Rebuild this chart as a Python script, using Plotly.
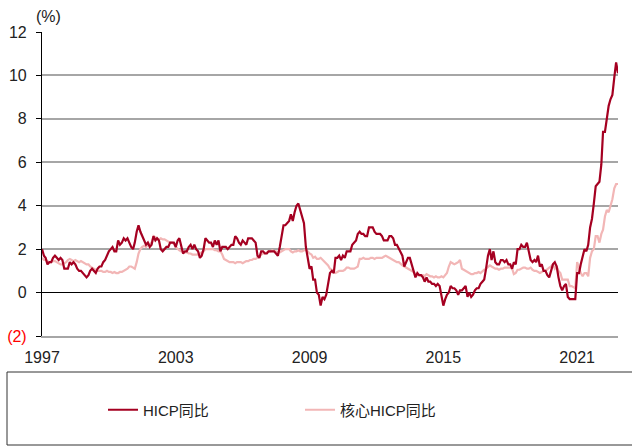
import pandas as pd
import plotly.graph_objects as go

start_month = "1997-01-01"
n_months = 311

hicp_yoy = [
    2.0, 1.7, 1.6, 1.3, 1.4, 1.4, 1.6, 1.7, 1.6, 1.5, 1.6, 1.5,  # 1997
    1.1, 1.1, 1.1, 1.4, 1.3, 1.4, 1.3, 1.1, 1.0, 1.0, 0.9, 0.8,  # 1998
    0.7, 0.8, 1.0, 1.1, 1.0, 0.9, 1.1, 1.2, 1.2, 1.4, 1.5, 1.7,  # 1999
    1.9, 2.0, 2.1, 1.9, 1.9, 2.4, 2.2, 2.3, 2.5, 2.4, 2.5, 2.3,  # 2000
    2.1, 2.0, 2.3, 2.8, 3.1, 2.8, 2.6, 2.4, 2.2, 2.3, 2.1, 2.2,  # 2001
    2.6, 2.4, 2.5, 2.4, 2.0, 1.9, 2.0, 2.1, 2.1, 2.3, 2.3, 2.3,  # 2002
    2.1, 2.4, 2.5, 2.1, 1.8, 1.9, 1.9, 2.1, 2.2, 2.0, 2.2, 2.0,  # 2003
    1.9, 1.6, 1.7, 2.0, 2.5, 2.4, 2.3, 2.3, 2.1, 2.4, 2.2, 2.4,  # 2004
    1.9, 2.1, 2.1, 2.1, 2.0, 2.1, 2.2, 2.2, 2.6, 2.5, 2.3, 2.2,  # 2005
    2.4, 2.3, 2.2, 2.5, 2.5, 2.5, 2.4, 2.3, 1.7, 1.6, 1.9, 1.9,  # 2006
    1.8, 1.8, 1.9, 1.9, 1.9, 1.9, 1.8, 1.7, 2.1, 2.6, 3.1, 3.1,  # 2007
    3.2, 3.3, 3.6, 3.3, 3.7, 4.0, 4.1, 3.8, 3.6, 3.2, 2.1, 1.6,  # 2008
    1.1, 1.2, 0.6, 0.6, 0.0, -0.1, -0.6, -0.2, -0.3, -0.1, 0.5, 0.9,  # 2009
    1.0, 0.9, 1.6, 1.6, 1.7, 1.5, 1.7, 1.6, 1.9, 1.9, 1.9, 2.2,  # 2010
    2.3, 2.4, 2.7, 2.8, 2.7, 2.7, 2.6, 2.6, 3.0, 3.0, 3.0, 2.8,  # 2011
    2.7, 2.7, 2.7, 2.6, 2.4, 2.4, 2.4, 2.6, 2.6, 2.5, 2.2, 2.2,  # 2012
    2.0, 1.8, 1.7, 1.2, 1.4, 1.6, 1.6, 1.3, 1.1, 0.7, 0.9, 0.8,  # 2013
    0.8, 0.7, 0.5, 0.7, 0.5, 0.5, 0.4, 0.4, 0.3, 0.4, 0.3, -0.2,  # 2014
    -0.6, -0.3, -0.1, 0.0, 0.3, 0.2, 0.2, 0.1, -0.1, 0.1, 0.1, 0.2,  # 2015
    0.3, -0.2, 0.0, -0.2, -0.1, 0.1, 0.2, 0.2, 0.4, 0.5, 0.6, 1.1,  # 2016
    1.7, 2.0, 1.5, 1.9, 1.4, 1.3, 1.3, 1.5, 1.5, 1.4, 1.5, 1.3,  # 2017
    1.3, 1.1, 1.4, 1.3, 2.0, 2.0, 2.2, 2.1, 2.1, 2.3, 1.9, 1.5,  # 2018
    1.4, 1.5, 1.4, 1.7, 1.2, 1.3, 1.0, 1.0, 0.8, 0.7, 1.0, 1.3,  # 2019
    1.4, 1.2, 0.7, 0.3, 0.1, 0.3, 0.4, -0.2, -0.3, -0.3, -0.3, -0.3,  # 2020
    0.9, 0.9, 1.3, 1.6, 2.0, 1.9, 2.2, 3.0, 3.4, 4.1, 4.9, 5.0,  # 2021
    5.1, 5.9, 7.4, 7.4, 8.1, 8.6, 8.9, 9.1, 9.9, 10.6, 10.1,  # 2022
]

core_hicp_yoy = [
    1.6, 1.5, 1.5, 1.45, 1.4, 1.4, 1.45, 1.45, 1.4, 1.35, 1.3, 1.3,  # 1997
    1.35, 1.4, 1.5, 1.55, 1.5, 1.45, 1.5, 1.45, 1.4, 1.45, 1.4, 1.35,  # 1998
    1.3, 1.3, 1.2, 1.15, 1.1, 1.05, 1.0, 1.0, 1.0, 0.95, 0.95, 1.0,  # 1999
    0.95, 0.95, 0.9, 0.95, 0.9, 0.9, 0.95, 0.95, 1.0, 1.05, 1.1, 1.2,  # 2000
    1.2, 1.15, 1.1, 1.4, 1.8, 2.0, 2.1, 2.15, 2.1, 2.2, 2.25, 2.3,  # 2001
    2.6, 2.55, 2.5, 2.45, 2.5, 2.45, 2.45, 2.4, 2.35, 2.3, 2.3, 2.25,  # 2002
    2.1, 2.0, 1.95, 1.9, 1.9, 1.85, 1.85, 1.8, 1.8, 1.75, 1.75, 1.75,  # 2003
    1.75, 1.8, 1.85, 1.9, 2.0, 2.0, 2.0, 2.0, 2.0, 1.95, 1.95, 1.9,  # 2004
    1.9, 1.75, 1.55, 1.5, 1.45, 1.4, 1.4, 1.4, 1.35, 1.4, 1.4, 1.4,  # 2005
    1.35, 1.4, 1.45, 1.45, 1.5, 1.5, 1.55, 1.55, 1.6, 1.65, 1.75, 1.8,  # 2006
    1.8, 1.85, 1.9, 1.9, 1.95, 1.9, 1.9, 1.85, 1.85, 1.9, 1.95, 2.0,  # 2007
    2.0, 2.0, 1.9, 1.85, 1.9, 1.9, 1.95, 1.9, 1.9, 1.95, 1.95, 1.9,  # 2008
    1.8, 1.75, 1.6, 1.65, 1.55, 1.55, 1.6, 1.5, 1.4, 1.35, 1.25, 1.1,  # 2009
    1.05, 0.95, 0.9, 0.95, 1.0, 1.0, 1.0, 1.05, 1.15, 1.15, 1.1, 1.1,  # 2010
    1.1, 1.15, 1.2, 1.55, 1.55, 1.6, 1.55, 1.55, 1.55, 1.6, 1.6, 1.55,  # 2011
    1.6, 1.6, 1.6, 1.6, 1.65, 1.7, 1.65, 1.6, 1.55, 1.5, 1.45, 1.4,  # 2012
    1.4, 1.3, 1.25, 1.2, 1.15, 1.1, 1.05, 1.0, 0.95, 0.85, 0.8, 0.8,  # 2013
    0.8, 0.8, 0.75, 0.85, 0.8, 0.75, 0.75, 0.7, 0.75, 0.7, 0.7, 0.75,  # 2014
    0.7, 0.8, 0.9, 1.2, 1.4, 1.35, 1.3, 1.35, 1.4, 1.5, 1.1, 1.05,  # 2015
    1.0, 0.95, 0.9, 0.85, 0.85, 0.9, 0.9, 0.95, 0.9, 1.0, 1.05, 1.1,  # 2016
    1.2, 1.25, 1.2, 1.15, 1.1, 1.1, 1.05, 1.1, 1.1, 1.15, 1.15, 1.15,  # 2017
    1.15, 1.1, 0.85, 0.9, 1.05, 1.05, 1.1, 1.15, 1.15, 1.1, 1.1, 1.15,  # 2018
    1.05, 1.0, 1.0, 0.95, 0.9, 0.95, 1.0, 1.0, 1.1, 1.15, 1.2, 1.3,  # 2019
    1.1, 1.2, 1.0, 0.9, 0.6, 0.6, 0.6, 0.6, 0.3, 0.3, 0.25, 0.2,  # 2020
    1.4, 1.1, 0.9, 0.75, 0.9, 0.9, 0.75, 1.6, 1.9, 2.0, 2.6, 2.6,  # 2021
    2.3, 2.7, 2.9, 3.5, 3.8, 3.7, 4.0, 4.3, 4.8, 5.0, 5.0,  # 2022
]

x_tick_dates = ["1997-01-01", "2003-01-01", "2009-01-01", "2015-01-01", "2021-01-01"]
x_tick_labels = ["1997", "2003", "2009", "2015", "2021"]
y_tick_values = [-2, 0, 2, 4, 6, 8, 10, 12]
y_tick_labels = ['<span style="color:#FF0000">(2)</span>', "0", "2", "4", "6", "8", "10", "12"]

series_names = ["HICP同比", "核心HICP同比"]
series_colors = ["#A50021", "#F2B6B6"]

months = pd.date_range(start_month, periods=n_months, freq="MS")

FONT = "Liberation Sans, Arial, Noto Sans CJK SC, sans-serif"

fig = go.Figure()
fig.add_trace(go.Scatter(x=months, y=core_hicp_yoy, mode="lines", name=series_names[1],
                         line=dict(color=series_colors[1], width=2.2)))
fig.add_trace(go.Scatter(x=months, y=hicp_yoy, mode="lines", name=series_names[0],
                         line=dict(color=series_colors[0], width=2.2)))

fig.update_layout(
    width=632, height=446,
    margin=dict(l=42, r=14, t=32, b=110, autoexpand=False),
    paper_bgcolor="white", plot_bgcolor="white",
    font=dict(family=FONT, size=15, color="#222222"),
    showlegend=True,
    legend=dict(orientation="h", x=(103 - 42) / 576, xanchor="left",
                y=(336 - 410) / 304, yanchor="middle",
                traceorder="reversed", entrywidth=152, entrywidthmode="pixels",
                font=dict(size=15, family=FONT), bgcolor="rgba(0,0,0,0)"),
)

fig.update_xaxes(
    type="date", range=[months[0], months[-1]], automargin=False,
    tickvals=x_tick_dates, ticktext=x_tick_labels,
    showgrid=False, zeroline=False,
    showline=True, linecolor="#A6A6A6", linewidth=1.5,
    ticks="outside", ticklen=6, tickcolor="rgba(0,0,0,0)",
    tickfont=dict(size=16),
)
fig.update_yaxes(
    range=[-2, 12], tickvals=y_tick_values, ticktext=y_tick_labels, automargin=False,
    showgrid=True, gridcolor="#A6A6A6", gridwidth=1.5,
    zeroline=True, zerolinecolor="#000000", zerolinewidth=1.2,
    showline=True, linecolor="#000000", linewidth=1.2,
    ticks="outside", ticklen=5, tickcolor="#000000",
    tickfont=dict(size=16), ticklabelstandoff=6,
)

# legend frame
fig.add_shape(type="rect", xref="paper", yref="paper",
              x0=(7 - 42) / 576, x1=(640 - 42) / 576,
              y0=(336 - 445) / 304, y1=(336 - 372) / 304,
              line=dict(color="#333333", width=1), fillcolor="rgba(0,0,0,0)")

fig.add_annotation(text="(%)", xref="paper", yref="paper",
                   x=(48 - 42) / 576, y=(336 - 16) / 304, xanchor="center", yanchor="middle",
                   showarrow=False, font=dict(size=16, family=FONT))

fig.write_html("out.html", config={"displayModeBar": False},
               post_script="document.body.style.margin='0';document.body.style.overflow='hidden';")
